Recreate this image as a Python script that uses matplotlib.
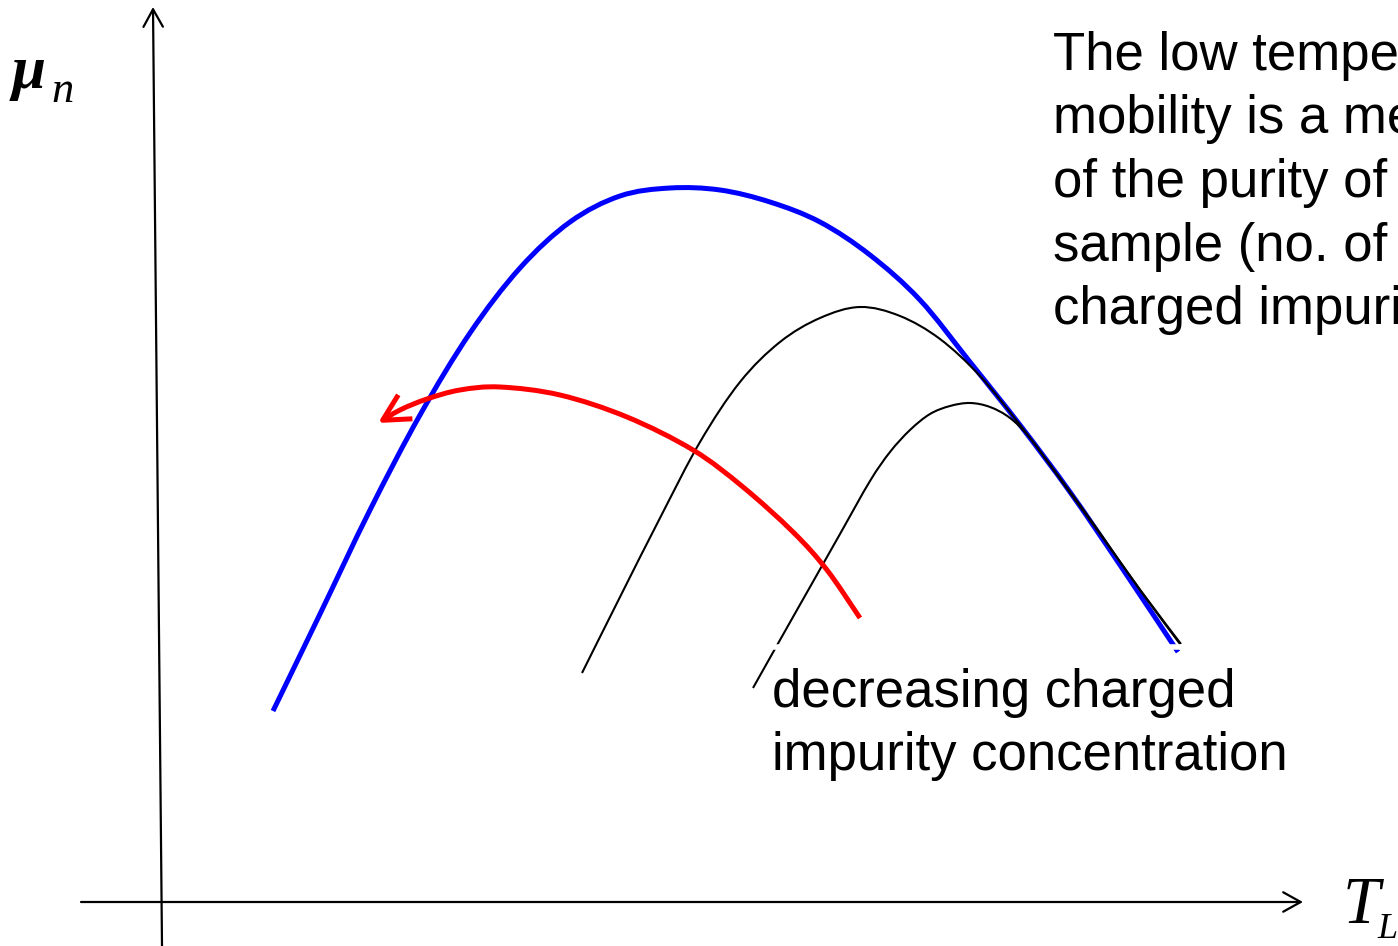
import matplotlib
matplotlib.use("Agg")
import matplotlib.pyplot as plt
from matplotlib.patches import FancyArrowPatch, PathPatch
from matplotlib.path import Path
import numpy as np

# Lattice temperature T_L and electron mobility mu_n, arbitrary units
# (axis origin at T=0, mu=0)

# lowest impurity concentration (blue envelope)
blue_T = [1.11, 1.58, 2.08, 2.58, 3.08, 3.58, 4.08, 4.58, 5.08, 5.58, 6.08, 6.58,
          7.08, 7.58, 8.08, 8.58, 9.08, 9.58, 10.16]
blue_mu = [1.91, 2.88, 3.92, 4.87, 5.69, 6.34, 6.80, 7.06, 7.14, 7.12, 7.00, 6.80,
           6.47, 6.02, 5.40, 4.77, 4.10, 3.37, 2.50]

# intermediate impurity concentration
mid_T = [4.20, 4.58, 4.98, 5.38, 5.78, 6.18, 6.58, 6.98, 7.38, 7.78, 8.18, 8.58,
         8.98, 9.38, 9.78, 10.18]
mid_mu = [2.29, 3.05, 3.84, 4.60, 5.20, 5.60, 5.84, 5.95, 5.86, 5.63, 5.26, 4.77,
          4.24, 3.69, 3.12, 2.58]

# highest impurity concentration
high_T = [5.91, 6.18, 6.48, 6.78, 7.08, 7.28, 7.48, 7.68, 7.88, 8.08, 8.28, 8.48,
          8.68, 8.98, 9.38, 9.79, 10.19]
high_mu = [2.14, 2.62, 3.15, 3.68, 4.21, 4.50, 4.72, 4.88, 4.96, 4.99, 4.95, 4.84,
           4.64, 4.23, 3.68, 3.11, 2.58]

# trend arrow (drawn from its tail towards the head)
trend_T = [6.98, 6.65, 6.31, 5.81, 5.31, 4.65, 3.98, 3.38, 2.98, 2.65, 2.38, 2.16]
trend_mu = [2.84, 3.32, 3.70, 4.15, 4.52, 4.85, 5.07, 5.15, 5.12, 5.03, 4.92, 4.79]

note_lines = ["The low temperature", "mobility is a measure", "of the purity of the",
              "sample (no. of", "charged impurities)"]
trend_lines = ["decreasing charged", "impurity concentration"]


def smooth_path(xs, ys):
    """Catmull-Rom curve through the points, written as cubic Bezier segments."""
    p = np.column_stack([xs, ys]).astype(float)
    ext = np.vstack([p[0], p, p[-1]])
    verts = [p[0]]
    codes = [Path.MOVETO]
    for i in range(len(p) - 1):
        p0, p1, p2, p3 = ext[i], ext[i + 1], ext[i + 2], ext[i + 3]
        verts += [p1 + (p2 - p0) / 6.0, p2 - (p3 - p1) / 6.0, p2]
        codes += [Path.CURVE4] * 3
    return Path(np.array(verts), codes)


def draw_curve(ax, xs, ys, **kw):
    patch = PathPatch(smooth_path(xs, ys), fill=False, **kw)
    ax.add_patch(patch)
    return patch


fig = plt.figure(figsize=(13.98, 9.46), dpi=100)
ax = fig.add_axes([0, 0, 1, 1])
ax.set_xlim(-1.62, 12.36)
ax.set_ylim(-0.44, 9.02)
ax.axis("off")

# axes with open arrow heads
axis_style = dict(arrowstyle="->, head_length=0.9, head_width=0.5",
                  lw=1.6, color="black", mutation_scale=14, shrinkA=0, shrinkB=0)
ax.annotate("", xy=(-0.09, 8.95), xytext=(0.0, -0.44), arrowprops=axis_style)
ax.annotate("", xy=(11.41, 0.0), xytext=(-0.81, 0.0), arrowprops=axis_style)

draw_curve(ax, blue_T, blue_mu, edgecolor="#0000ff", lw=3.6, capstyle="butt", zorder=3)
draw_curve(ax, mid_T, mid_mu, edgecolor="black", lw=1.5, zorder=4)
draw_curve(ax, high_T, high_mu, edgecolor="black", lw=1.5, zorder=4)

# thin white strip that cuts the curves just above the label
ax.plot([5.85, 10.25], [2.55, 2.55], color="white", lw=4, zorder=5)

trend = FancyArrowPatch(path=smooth_path(trend_T, trend_mu),
                        arrowstyle="->, head_length=19, head_width=10",
                        mutation_scale=1, color="#ff0000", lw=3.6,
                        capstyle="butt", joinstyle="round", zorder=6)
ax.add_patch(trend)

sans = "Liberation Sans"
for i, line in enumerate(note_lines):
    ax.text(8.91, 8.32 - 0.635 * i, line, family=sans, fontsize=38,
            va="baseline", ha="left", zorder=7)
for i, line in enumerate(trend_lines):
    ax.text(6.10, 1.95 - 0.63 * i, line, family=sans, fontsize=38,
            va="baseline", ha="left", zorder=7)

serif = "Liberation Serif"
ax.text(-1.50, 8.14, "\u03bc", family=serif, style="italic", weight="bold",
        fontsize=44, va="baseline", ha="left")
ax.text(-1.11, 8.00, "n", family=serif, style="italic", fontsize=32,
        va="baseline", ha="left")
ax.text(11.81, -0.21, "T", family=serif, style="italic", fontsize=48,
        va="baseline", ha="left")
ax.text(12.15, -0.36, "L", family=serif, style="italic", fontsize=26,
        va="baseline", ha="left")

fig.savefig("out.png", dpi=100, facecolor="white")
